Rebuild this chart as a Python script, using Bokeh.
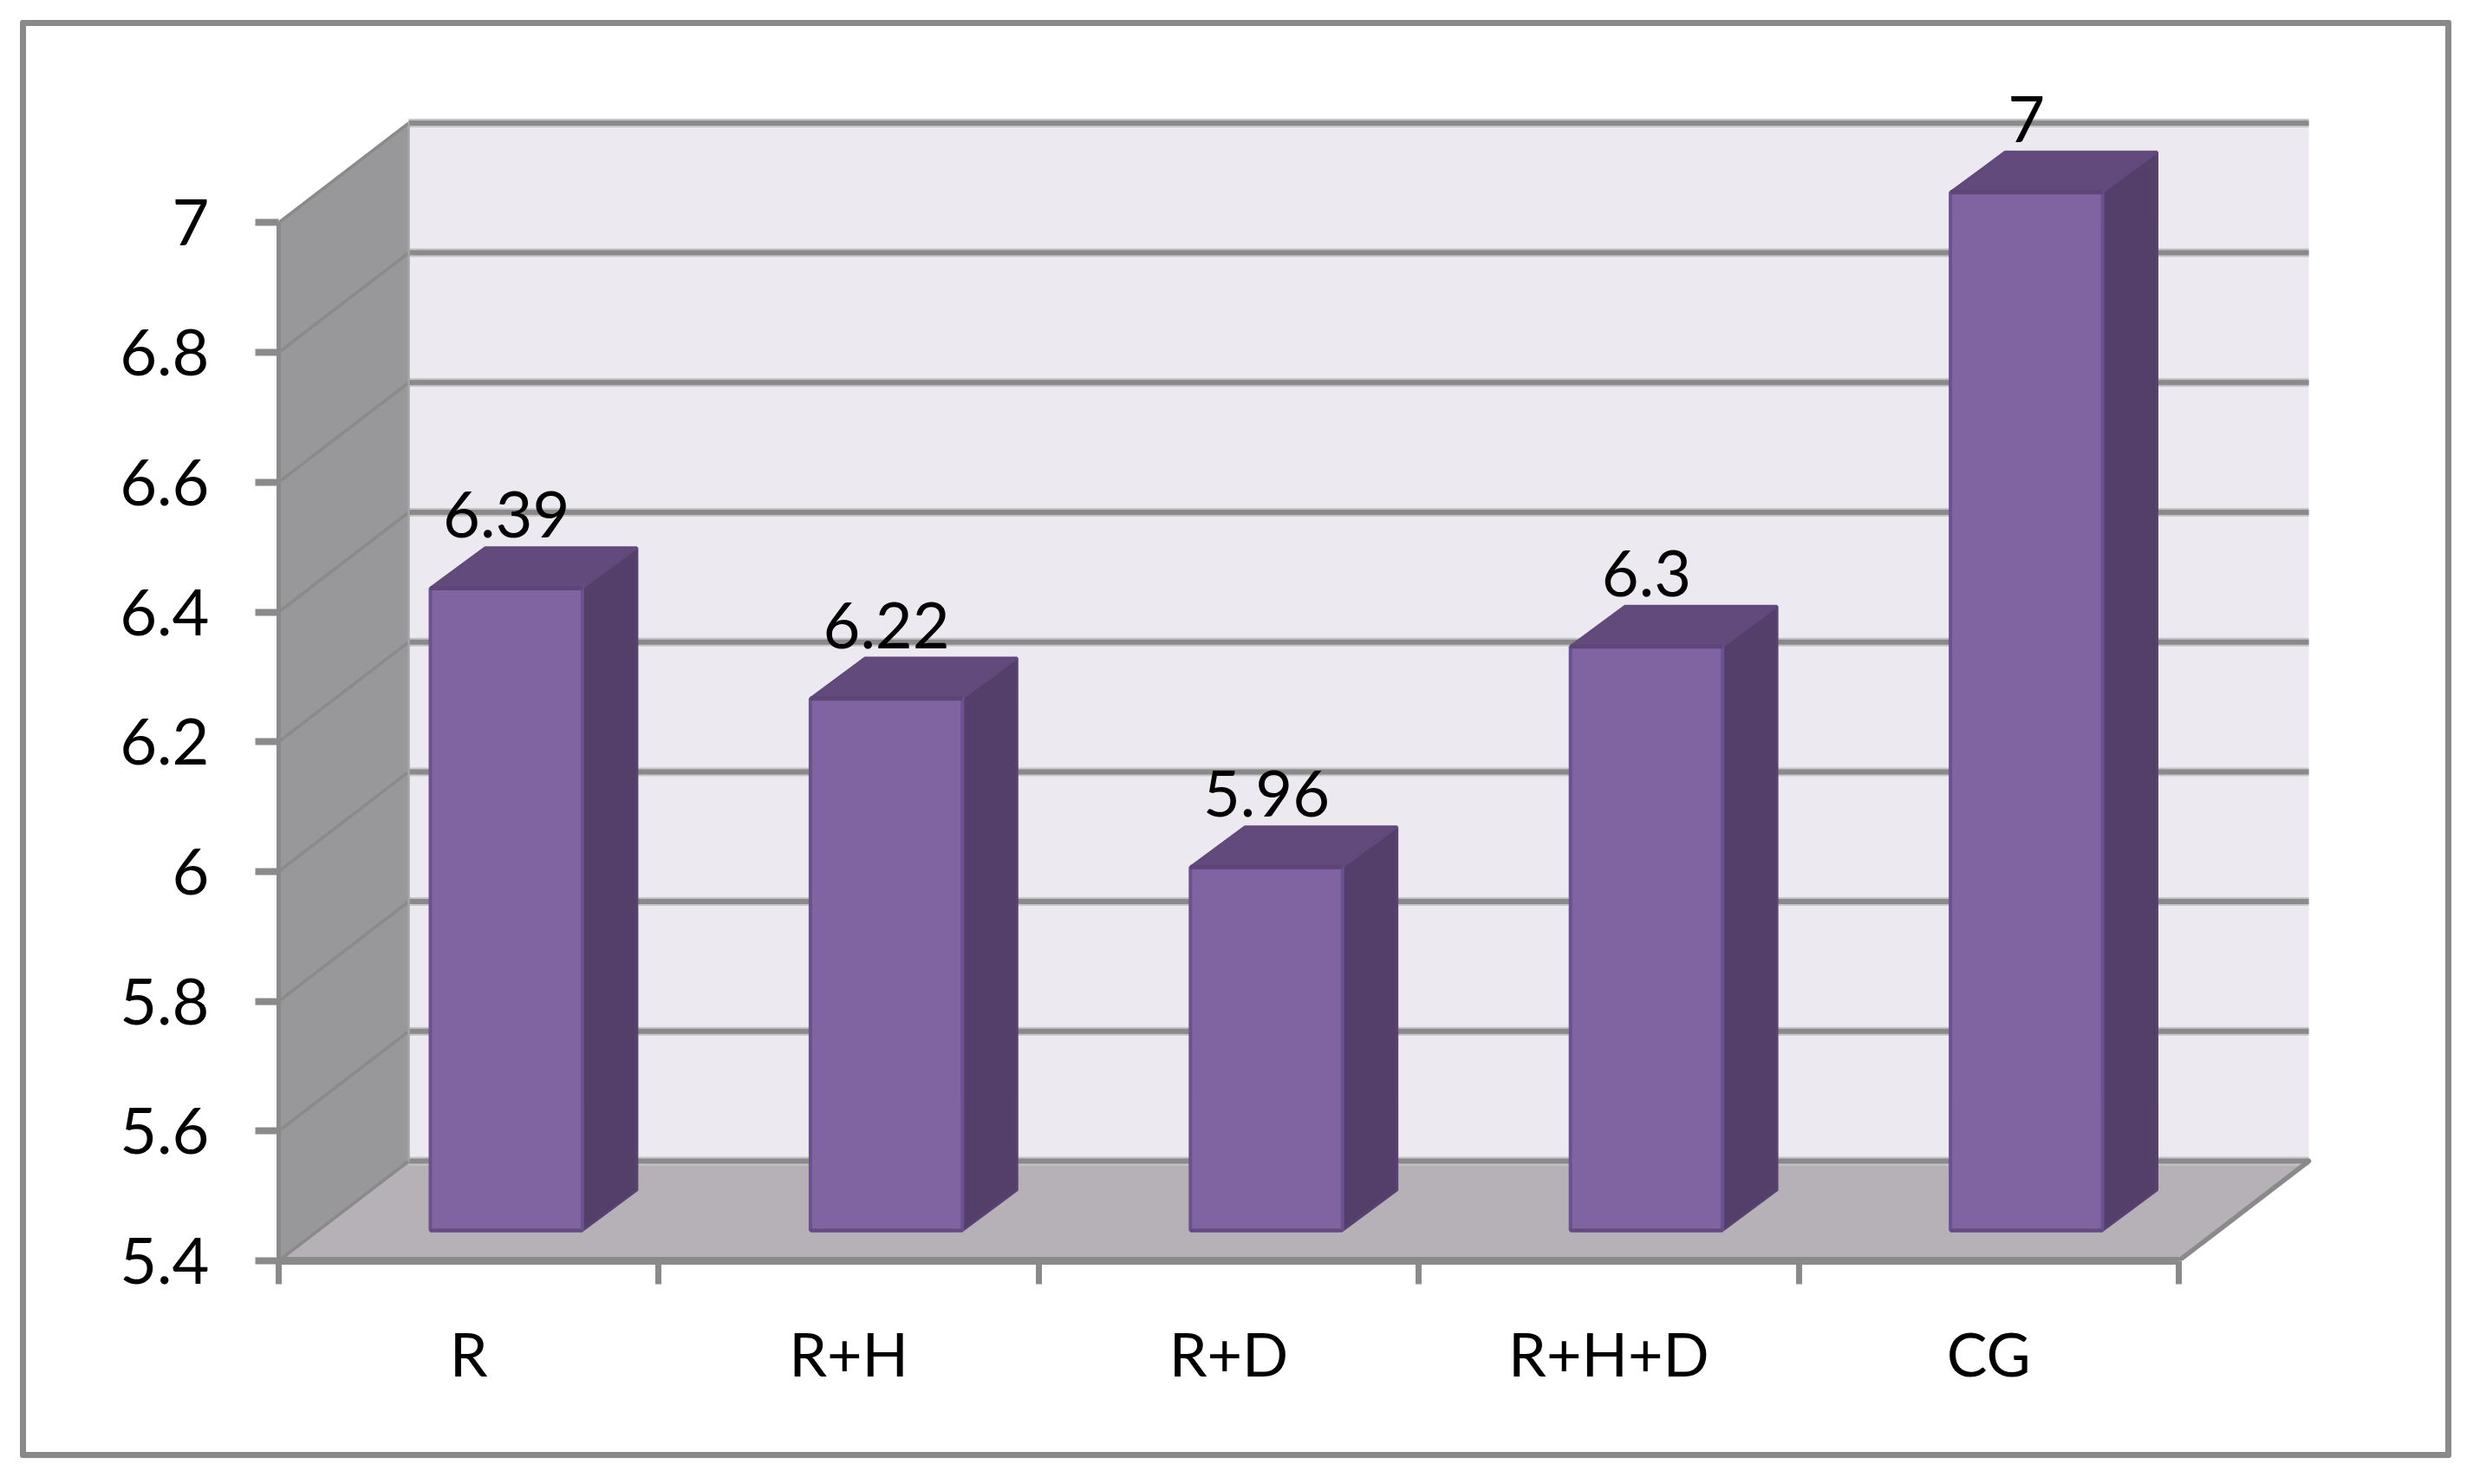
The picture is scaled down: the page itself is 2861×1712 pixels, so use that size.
from bokeh.plotting import figure
from bokeh.models import Range1d, FixedTicker, InlineStyleSheet, ColumnDataSource
from bokeh.core.properties import value
from bokeh.embed import file_html
from bokeh.resources import INLINE

# data
categories = ["R", "R+H", "R+D", "R+H+D", "CG"]
values = [6.39, 6.22, 5.96, 6.3, 7]
value_labels = ["6.39", "6.22", "5.96", "6.3", "7"]
y_ticks = [5.4, 5.6, 5.8, 6, 6.2, 6.4, 6.6, 6.8, 7]
y_tick_labels = ["5.4", "5.6", "5.8", "6", "6.2", "6.4", "6.6", "6.8", "7"]

# geometry of the pseudo-3D box, in axis units
BASE = 5.4
PX_X, PX_Y = 438.4, 748.5
DX = 150 / PX_X       # depth of the box along x
DY = 115 / PX_Y       # depth of the box along y
BAR_HALF = 0.2
BAR_D0 = 0.29
BAR_D0_Y = 0.305
BAR_D1 = 0.71
n = len(categories)

GREY = "#8a8a8a"
HALO = "#c6c5ca"
FONT = "Lato"

frame_left, frame_bottom = 321, 1454
W, H = 2845, 1696
p = figure(width=W, height=H, output_backend="svg", toolbar_location=None,
           min_border_left=frame_left, min_border_right=0, min_border_top=0,
           min_border_bottom=H - frame_bottom,
           x_range=Range1d(0, (W - frame_left) / PX_X),
           y_range=Range1d(BASE, BASE + frame_bottom / PX_Y))
p.grid.visible = False
p.outline_line_color = None
p.background_fill_color = "white"
p.border_fill_color = "white"

# outer border of the chart (it lies outside the plot frame, so it is page styling)
p.stylesheets = [InlineStyleSheet(css="""
:host::after {
  content: ""; position: absolute; left: 22.5px; top: 22.5px;
  width: 2805px; height: 1659px; box-sizing: border-box;
  border: 7px solid #8a8a8a; border-radius: 3px; pointer-events: none;
}
""")]

# side wall, back wall, floor
top = max(y_ticks)
p.patch([0, DX, DX, 0], [BASE, BASE + DY, top + DY, top], fill_color="#989799", line_color=None)
p.patch([DX, n + DX, n + DX, DX], [BASE + DY, BASE + DY, top + DY, top + DY],
        fill_color="#ECE9F1", line_color=None)
p.patch([0, n, n + DX, DX], [BASE, BASE, BASE + DY, BASE + DY], fill_color="#B5B1B6", line_color=None)

# grid lines
for t in y_ticks:
    p.line([0, DX], [t, t + DY], line_color=GREY, line_width=3.5)
    p.line([DX, n + DX], [t + DY, t + DY], line_color=HALO, line_width=10)
    p.line([DX, n + DX], [t + DY, t + DY], line_color=GREY, line_width=6)
p.line([DX, DX], [BASE + DY, top + DY], line_color="#a5a5a5", line_width=2.5)
p.line([n, n + DX], [BASE, BASE + DY], line_color=GREY, line_width=5.5, line_cap="round")

# bars
front_left = [c + 0.5 - BAR_HALF + BAR_D0 * DX for c in range(n)]
front_right = [c + 0.5 + BAR_HALF + BAR_D0 * DX for c in range(n)]
bar_base = BASE + BAR_D0_Y * DY
bar_top = [v + BAR_D0_Y * DY for v in values]
dd_x = (BAR_D1 - BAR_D0) * DX
dd_y = (BAR_D1 - BAR_D0_Y) * DY

p.patches([[r, r + dd_x, r + dd_x, r] for r in front_right],
          [[bar_base, bar_base + dd_y, t + dd_y, t] for t in bar_top],
          fill_color="#533F69", line_color="#584370", line_width=3)
p.patches([[l, l + dd_x, r + dd_x, r] for l, r in zip(front_left, front_right)],
          [[t, t + dd_y, t + dd_y, t] for t in bar_top],
          fill_color="#624B7C", line_color="#614A7B", line_width=3)
p.quad(left=front_left, right=front_right, bottom=bar_base, top=bar_top,
       fill_color="#8064A2", line_color="#6A5190", line_width=4)
p.segment(x0=front_left, x1=front_right, y0=bar_top, y1=bar_top,
          line_color="#5D4577", line_width=5)
p.segment(x0=front_left, x1=front_right, y0=bar_base, y1=bar_base,
          line_color="#644B83", line_width=4)

# value labels
labels = ColumnDataSource(dict(
    x=[c + 0.5 + BAR_D0 * DX for c in range(n)],
    y=[v + BAR_D1 * DY + 38 / PX_Y for v in values],
    t=value_labels))
p.text("x", "y", text="t", source=labels, text_font=value(FONT), text_font_size="74px",
       text_color="black", text_align="center", text_baseline="alphabetic")

# axes
xa = p.xaxis[0]
xa.bounds = (0, n)
xa.ticker = FixedTicker(ticks=[c + 0.5 for c in range(n)], minor_ticks=list(range(n + 1)))
xa.major_label_overrides = {c + 0.5: categories[c] for c in range(n)}
xa.major_tick_line_color = None
xa.major_tick_out = 27
xa.major_tick_in = 0
xa.minor_tick_out = 27
xa.minor_tick_in = 0
xa.minor_tick_line_color = GREY
xa.minor_tick_line_width = 7
xa.axis_line_color = GREY
xa.axis_line_width = 9
xa.major_label_text_font = FONT
xa.major_label_text_font_size = "70px"
xa.major_label_text_color = "black"
xa.major_label_standoff = 37

ya = p.yaxis[0]
ya.bounds = (BASE, top)
ya.ticker = FixedTicker(ticks=y_ticks)
ya.major_label_overrides = dict(zip(y_ticks, y_tick_labels))
ya.major_tick_out = 27
ya.major_tick_in = 0
ya.major_tick_line_color = GREY
ya.major_tick_line_width = 8
ya.minor_tick_line_color = None
ya.axis_line_color = GREY
ya.axis_line_width = 5
ya.major_label_text_font = FONT
ya.major_label_text_font_size = "74px"
ya.major_label_text_color = "black"
ya.major_label_standoff = 53

open("out.html", "w").write(file_html(p, INLINE))
